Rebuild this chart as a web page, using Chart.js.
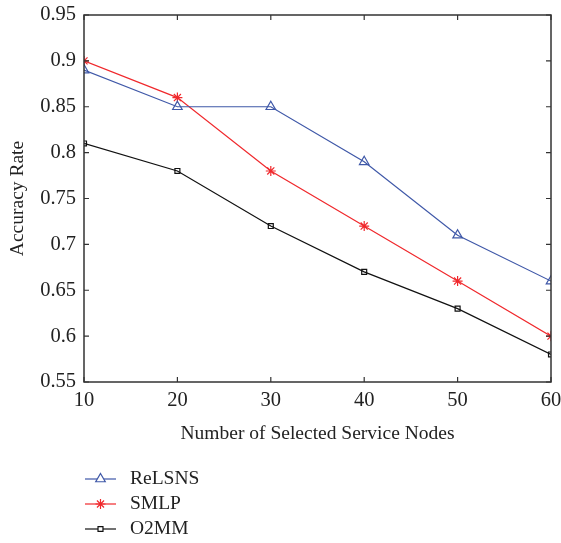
<!DOCTYPE html>
<html><head><meta charset="utf-8">
<script src="https://cdn.jsdelivr.net/npm/chart.js@4.4.0/dist/chart.umd.min.js"></script>
<style>html,body{margin:0;padding:0;background:#fff}#wrap{width:561px;height:543px}</style>
</head><body><div id="wrap"><canvas id="c" width="561" height="543"></canvas></div>
<script>
const nodes = [10, 20, 30, 40, 50, 60];
const relsns = [0.89, 0.85, 0.85, 0.79, 0.71, 0.66];
const smlp = [0.90, 0.86, 0.78, 0.72, 0.66, 0.60];
const o2mm = [0.81, 0.78, 0.72, 0.67, 0.63, 0.58];
const seriesNames = ['ReLSNS', 'SMLP', 'O2MM'];
const FONT = '"Liberation Serif", "Times New Roman", serif';
const FS = 19.5;
const TFS = 20.5;

function pts(arr){ return nodes.map((x,i)=>({x:x,y:arr[i]})); }

const frame = {
  id:'frame',
  afterDraw(chart){
    const ctx = chart.ctx, a = chart.chartArea;
    const xs = chart.scales.x, ys = chart.scales.y;
    ctx.save();
    ctx.strokeStyle = '#333'; ctx.lineWidth = 1.5;
    ctx.strokeRect(a.left, a.top, a.right-a.left, a.bottom-a.top);
    ctx.lineWidth = 1.2;
    ctx.beginPath();
    xs.ticks.forEach(t=>{ const p = xs.getPixelForValue(t.value);
      ctx.moveTo(p,a.bottom); ctx.lineTo(p,a.bottom-5);
      ctx.moveTo(p,a.top); ctx.lineTo(p,a.top+5); });
    ys.ticks.forEach(t=>{ const p = ys.getPixelForValue(t.value);
      ctx.moveTo(a.left,p); ctx.lineTo(a.left+5,p);
      ctx.moveTo(a.right,p); ctx.lineTo(a.right-5,p); });
    ctx.stroke();
    // legend
    const x0 = 85, y0 = 479, dy = 25;
    chart.data.datasets.forEach((ds,i)=>{
      const y = y0 + i*dy;
      ctx.strokeStyle = ds.borderColor; ctx.lineWidth = 1.2;
      ctx.beginPath(); ctx.moveTo(x0,y); ctx.lineTo(x0+31,y); ctx.stroke();
      ctx.fillStyle = '#fff';
      Chart.helpers.drawPoint(ctx, {pointStyle: ds.pointStyle, radius: ds.pointRadius, borderWidth: 1.2}, x0+15.5, y);
      ctx.fillStyle = '#222'; ctx.font = FS + 'px ' + FONT;
      ctx.textBaseline = 'middle'; ctx.textAlign = 'left';
      ctx.fillText(ds.label, x0+45, y);
    });
    ctx.restore();
  }
};

new Chart(document.getElementById('c'), {
  type:'line',
  data:{ datasets:[
    {label:seriesNames[0], data:pts(relsns), borderColor:'#3f58a8', backgroundColor:'rgba(0,0,0,0)', pointBackgroundColor:'rgba(255,255,255,0)', pointStyle:'triangle', pointRadius:5.5, pointBorderWidth:1.2, borderWidth:1.2},
    {label:seriesNames[1], data:pts(smlp), borderColor:'#f0282c', backgroundColor:'rgba(0,0,0,0)', pointBackgroundColor:'rgba(255,255,255,0)', pointStyle:'star', pointRadius:5, pointBorderWidth:1.2, borderWidth:1.2},
    {label:seriesNames[2], data:pts(o2mm), borderColor:'#111', backgroundColor:'rgba(0,0,0,0)', pointBackgroundColor:'rgba(255,255,255,0)', pointStyle:'rect', pointRadius:3.5, pointBorderWidth:1.2, borderWidth:1.2}
  ]},
  options:{
    responsive:false, animation:false, devicePixelRatio:1,
    layout:{padding:{left:0,right:10,top:15,bottom:97}},
    plugins:{legend:{display:false}, tooltip:{enabled:false}},
    elements:{line:{tension:0}},
    scales:{
      x:{type:'linear', min:10, max:60,
        ticks:{stepSize:10, color:'#222', font:{family:FONT,size:TFS}, padding:6},
        grid:{display:false, drawTicks:false}, border:{display:false},
        title:{display:true, text:'Number of Selected Service Nodes', color:'#222', font:{family:FONT,size:FS}, padding:{top:0,bottom:0}},
        afterFit(s){ s.height = 64; s.paddingLeft = 0; s.paddingRight = 0; }
      },
      y:{min:0.55, max:0.95,
        ticks:{stepSize:0.05, color:'#222', font:{family:FONT,size:TFS}, padding:8,
          callback:v=>String(parseFloat(v.toFixed(2)))},
        grid:{display:false, drawTicks:false}, border:{display:false},
        title:{display:true, text:'Accuracy Rate', color:'#222', font:{family:FONT,size:FS}, padding:{top:6,bottom:0}},
        afterFit(s){ s.width = 84; s.paddingTop = 0; s.paddingBottom = 0; }
      }
    }
  },
  plugins:[frame]
});
</script></body></html>
